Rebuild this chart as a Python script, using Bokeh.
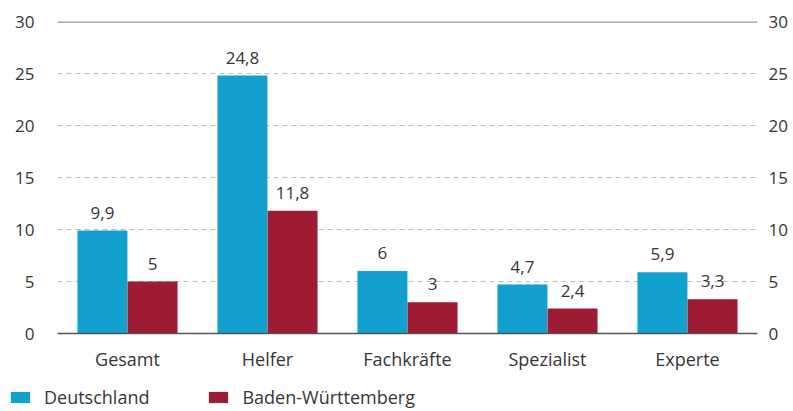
from bokeh.plotting import figure
from bokeh.layouts import column
from bokeh.models import (ColumnDataSource, FactorRange, Range1d, LinearAxis, FixedTicker,
                          Span, Legend, LegendItem)
from bokeh.transform import dodge
from bokeh.core.properties import value
from bokeh.embed import file_html
from bokeh.resources import INLINE

categories = ["Gesamt", "Helfer", "Fachkräfte", "Spezialist", "Experte"]
deutschland = [9.9, 24.8, 6.0, 4.7, 5.9]
baden_wuerttemberg = [5.0, 11.8, 3.0, 2.4, 3.3]
y_ticks = [0, 5, 10, 15, 20, 25, 30]
series_names = ["Deutschland", "Baden-Württemberg"]

BLUE = "#12a0cf"
RED = "#9e1b34"
TXT = "#363636"
FONT = "Open Sans"
NUM_SIZE = "17px"
LBL_SIZE = "18px"

def fmt(v):
    return f"{v:g}".replace(".", ",")

src = ColumnDataSource(dict(
    cat=categories,
    de=deutschland,
    bw=baden_wuerttemberg,
    de_lbl=[fmt(v) for v in deutschland],
    bw_lbl=[fmt(v) for v in baden_wuerttemberg],
))

p = figure(x_range=FactorRange(*categories, range_padding=0), y_range=Range1d(0, 30),
           width=793, height=375, output_backend="svg", toolbar_location=None,
           min_border_left=57, min_border_right=36, min_border_top=21, min_border_bottom=42)
p.outline_line_color = None
p.background_fill_color = "white"
p.frame_align = False

bw_off = 0.179
w = 0.357
p.vbar(x=dodge("cat", -bw_off, range=p.x_range), top="de", width=w, source=src,
       fill_color=BLUE, line_color=None)
p.vbar(x=dodge("cat", bw_off, range=p.x_range), top="bw", width=w, source=src,
       fill_color=RED, line_color=None)

for col, off in (("de", -bw_off), ("bw", bw_off)):
    p.text(x=dodge("cat", off, range=p.x_range), y=col, text=col + "_lbl", source=src,
           text_align="center", text_baseline="bottom", y_offset=-12,
           text_font=value(FONT), text_font_size=NUM_SIZE, text_color=TXT)

# axes
p.yaxis.ticker = FixedTicker(ticks=y_ticks)
p.yaxis.axis_line_color = None
p.yaxis.major_tick_line_color = None
p.yaxis.minor_tick_line_color = None
p.yaxis.major_label_standoff = 17
p.yaxis.major_label_text_font = FONT
p.yaxis.major_label_text_font_size = NUM_SIZE
p.yaxis.major_label_text_color = TXT

ra = LinearAxis(ticker=FixedTicker(ticks=y_ticks), axis_line_color=None,
                major_tick_line_color=None, minor_tick_line_color=None,
                major_label_standoff=5, major_label_text_font=FONT,
                major_label_text_font_size=NUM_SIZE, major_label_text_color=TXT)
p.add_layout(ra, "right")

p.xaxis.axis_line_color = "#555555"
p.xaxis.axis_line_width = 1.5
p.xaxis.major_tick_line_color = None
p.xaxis.minor_tick_line_color = None
p.xaxis.major_label_standoff = 7
p.xaxis.major_label_text_font = FONT
p.xaxis.major_label_text_font_size = LBL_SIZE
p.xaxis.major_label_text_color = TXT

p.xgrid.grid_line_color = None
p.ygrid.ticker = FixedTicker(ticks=[5, 10, 15, 20, 25])
p.ygrid.grid_line_color = "#bbbbbb"
p.ygrid.grid_line_dash = "5 4"
p.ygrid.grid_line_width = 1

top = Span(location=y_ticks[-1], dimension="width", line_color="#999999", line_width=2.5)
p.add_layout(top)

# legend strip (bars lie below its visible range; only the legend shows)
lg = figure(width=793, height=36, output_backend="svg", toolbar_location=None,
            min_border=0, x_axis_location=None, y_axis_location=None,
            x_range=FactorRange(*categories, range_padding=0), y_range=Range1d(100, 101))
lg.frame_align = False
lg.grid.visible = False
lg.outline_line_color = None
l1 = lg.vbar(x="cat", top="de", width=w, source=src, fill_color=BLUE, line_color=None)
l2 = lg.vbar(x="cat", top="bw", width=w, source=src, fill_color=RED, line_color=None)
legend = Legend(items=[LegendItem(label=series_names[0], renderers=[l1]),
                       LegendItem(label=series_names[1], renderers=[l2])],
                orientation="horizontal", location=(8, 2),
                glyph_width=24, glyph_height=14, label_standoff=12, spacing=57,
                padding=0, margin=0, border_line_color=None, background_fill_alpha=0,
                label_text_font=FONT, label_text_font_size=LBL_SIZE, label_text_color=TXT)
lg.add_layout(legend)

open("out.html", "w").write(file_html(column(p, lg, spacing=0), INLINE))
